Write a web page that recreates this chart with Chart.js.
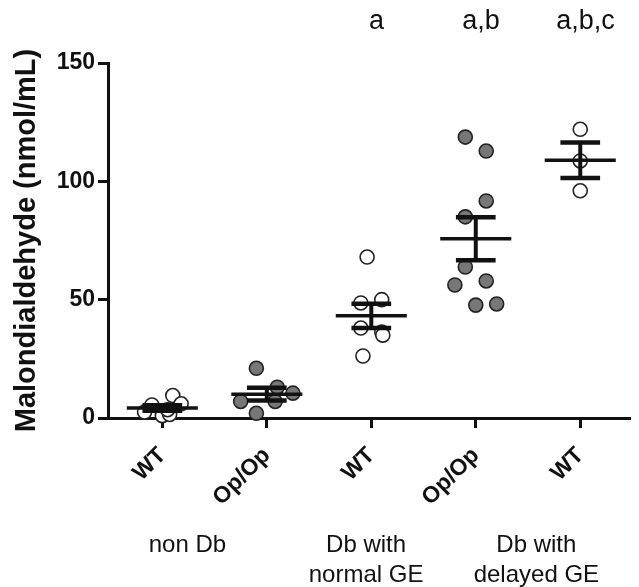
<!DOCTYPE html>
<html>
<head>
<meta charset="utf-8">
<script src="https://cdn.jsdelivr.net/npm/chart.js@4/dist/chart.umd.min.js"></script>
<style>
  body { margin: 0; background: #fff; }
</style>
</head>
<body>
<canvas id="mda" width="639" height="587"></canvas>
<script>
// categories and tick labels
const xLabels = ['WT', 'Op/Op', 'WT', 'Op/Op', 'WT'];
const groupNames = [['non Db'], ['Db with', 'normal GE'], ['Db with', 'delayed GE']];
const sigLetters = ['', '', 'a', 'a,b', 'a,b,c'];
const yTicks = [0, 50, 100, 150];

// individual animals, nmol/mL
const wtNonDb = [2.5, 5.5, 1, 1.5, 9.5, 6, 3.5];
const opNonDb = [21, 13, 10.5, 7, 7, 2];
const wtNormalGE = [68, 48.6, 50, 38, 36.3, 35, 26.2];
const opNormalGE = [118.7, 112.8, 91.7, 85, 63.8, 56.2, 57.9, 47.7, 48.2];
const wtDelayedGE = [122, 108.6, 96];

// horizontal scatter of the dots inside a column
const jitter = [
    [-0.17, -0.1, 0, 0.07, 0.1, 0.18, 0.05],
    [-0.1, 0.1, 0.25, -0.25, 0.08, -0.1],
    [-0.04, -0.1, 0.1, -0.1, 0.1, 0.11, -0.08],
    [-0.1, 0.1, 0.1, -0.1, -0.1, -0.2, 0.1, 0, 0.2],
    [0, 0, 0]
];

const groups = [wtNonDb, opNonDb, wtNormalGE, opNormalGE, wtDelayedGE];
const filled = [false, true, false, true, false];

const ink = '#111';

function mean(a) { return a.reduce((s, v) => s + v, 0) / a.length; }
function sem(a) {
    const m = mean(a);
    const sd = Math.sqrt(a.reduce((s, v) => s + (v - m) * (v - m), 0) / (a.length - 1));
    return sd / Math.sqrt(a.length);
}

const datasets = groups.map((vals, i) => ({
    data: vals.map((v, j) => ({ x: i + jitter[i][j], y: v })),
    pointRadius: 7,
    pointHoverRadius: 7,
    pointBorderWidth: 1.6,
    pointBorderColor: '#222',
    pointBackgroundColor: filled[i] ? '#777' : '#fff',
    showLine: false,
    clip: false
}));

// mean line + SEM bars on top of the dots
const statsPlugin = {
    id: 'stats',
    afterDatasetsDraw(chart) {
        const { ctx, scales: { x, y } } = chart;
        ctx.save();
        ctx.strokeStyle = ink;
        ctx.lineCap = 'butt';
        groups.forEach((vals, i) => {
            const m = mean(vals), s = sem(vals);
            const cx = x.getPixelForValue(i);
            const mw = x.getPixelForValue(i + 0.34) - cx;
            const cw = x.getPixelForValue(i + 0.19) - cx;
            const yM = y.getPixelForValue(m), yT = y.getPixelForValue(m + s), yB = y.getPixelForValue(m - s);
            ctx.lineWidth = 4;
            ctx.beginPath(); ctx.moveTo(cx, yT); ctx.lineTo(cx, yB); ctx.stroke();
            ctx.lineWidth = 4.5;
            ctx.beginPath(); ctx.moveTo(cx - cw, yT); ctx.lineTo(cx + cw, yT); ctx.stroke();
            ctx.beginPath(); ctx.moveTo(cx - cw, yB); ctx.lineTo(cx + cw, yB); ctx.stroke();
            ctx.lineWidth = 3.5;
            ctx.beginPath(); ctx.moveTo(cx - mw, yM); ctx.lineTo(cx + mw, yM); ctx.stroke();
        });
        ctx.restore();
    }
};

// group captions under the axis, significance letters on top
const textPlugin = {
    id: 'texts',
    afterDraw(chart) {
        const { ctx, scales: { x } } = chart;
        ctx.save();
        ctx.fillStyle = ink;
        ctx.textAlign = 'center';
        ctx.textBaseline = 'middle';
        ctx.font = '24px "Liberation Sans", Arial, sans-serif';
        const at = [0.24, 1.95, 3.58];
        groupNames.forEach((lines, i) => {
            lines.forEach((t, k) => ctx.fillText(t, x.getPixelForValue(at[i]), 545 + k * 30));
        });
        ctx.font = '27px "Liberation Sans", Arial, sans-serif';
        sigLetters.forEach((t, i) => {
            if (t) ctx.fillText(t, x.getPixelForValue(i + 0.05), 22);
        });
        ctx.restore();
    }
};

new Chart(document.getElementById('mda').getContext('2d'), {
    type: 'scatter',
    data: { datasets: datasets },
    options: {
        responsive: false,
        animation: false,
        events: [],
        layout: { padding: { top: 63, right: 0, left: 0, bottom: 0 } },
        plugins: { legend: { display: false }, tooltip: { enabled: false } },
        scales: {
            x: {
                type: 'linear',
                min: -0.52,
                max: 4.48,
                afterBuildTicks: (scale) => { scale.ticks = xLabels.map((l, i) => ({ value: i })); },
                afterFit: (scale) => { scale.height = 169; },
                ticks: {
                    autoSkip: false,
                    minRotation: 45,
                    maxRotation: 45,
                    padding: 14,
                    color: ink,
                    font: { family: '"Liberation Sans", Arial, sans-serif', size: 23, weight: 'bold' },
                    callback: (v) => xLabels[v]
                },
                grid: { drawOnChartArea: false, drawTicks: true, tickLength: 10, tickWidth: 3, tickColor: ink },
                border: { color: ink, width: 3 }
            },
            y: {
                min: 0,
                max: 150,
                afterBuildTicks: (scale) => { scale.ticks = yTicks.map(v => ({ value: v })); },
                afterFit: (scale) => { scale.width = 108; },
                ticks: {
                    padding: 3,
                    color: ink,
                    font: { family: '"Liberation Sans", Arial, sans-serif', size: 23, weight: 'bold' }
                },
                grid: { drawOnChartArea: false, drawTicks: true, tickLength: 10, tickWidth: 3, tickColor: ink },
                border: { color: ink, width: 3 },
                title: {
                    display: true,
                    text: 'Malondialdehyde (nmol/mL)',
                    color: ink,
                    padding: { top: 10, bottom: 0 },
                    font: { family: '"Liberation Sans", Arial, sans-serif', size: 29, weight: 'bold' }
                }
            }
        }
    },
    plugins: [statsPlugin, textPlugin]
});
</script>
</body>
</html>
